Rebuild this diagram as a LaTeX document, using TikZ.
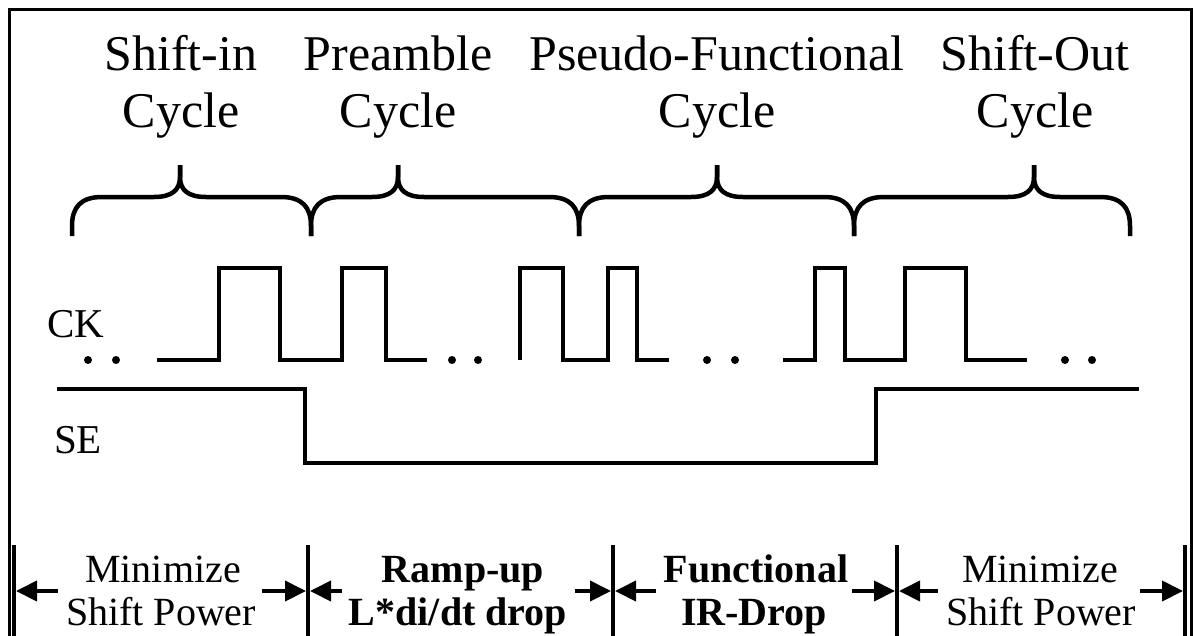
\documentclass[tikz,border=0pt]{standalone}
\usepackage{fontspec}
\setmainfont{Liberation Serif}
\usetikzlibrary{arrows.meta}
\newcommand\cbrace[3]{%
  \draw[brace] (#1,236) -- (#1,226) .. controls (#1,207) and ({#1+9},197) .. ({#1+30},197)
     -- ({#2-26},197) .. controls ({#2-8},197) and (#2,190) .. (#2,177) -- (#2,165);
  \draw[brace] (#2,165) -- (#2,177) .. controls (#2,190) and ({#2+8},197) .. ({#2+26},197)
     -- ({#3-30},197) .. controls ({#3-9},197) and (#3,207) .. (#3,226) -- (#3,236);
}
\begin{document}
\begin{tikzpicture}[x=1pt,y=-1pt,
  wave/.style={line width=4pt, line join=miter},
  brace/.style={line width=4.5pt, line join=round},
  frame/.style={line width=3pt},
  bar/.style={line width=4pt},
  arr/.style={line width=4pt, -{Triangle[length=21pt,width=20pt]}},
  hdr/.style={font=\fontsize{50}{57}\selectfont, inner sep=0pt, anchor=base},
  sig/.style={font=\fontsize{41}{46}\selectfont, inner sep=0pt, anchor=base west},
  lbl/.style={font=\fontsize{40}{44}\selectfont, inner sep=0pt, anchor=base},
  blbl/.style={font=\fontsize{40}{44}\selectfont\bfseries, inner sep=0pt, anchor=base},
  dot/.style={fill=black}
]
\useasboundingbox (0,0) rectangle (1194,635);
\clip (0,0) rectangle (1194,635);
\fill[white] (0,0) rectangle (1194,635);
% frame
\draw[frame] (9,650) -- (9,9) -- (1191,9) -- (1191,650);
% headers
\node[hdr] (h1a) at (181,70) {Shift-in};
\node[hdr] (h1b) at (181,127) {Cycle};
\node[hdr] (h2a) at (398,70) {Preamble};
\node[hdr] (h2b) at (398,127) {Cycle};
\node[hdr] (h3a) at (717,70) {Pseudo-Functional};
\node[hdr] (h3b) at (717,127) {Cycle};
\node[hdr] (h4a) at (1035,70) {Shift-Out};
\node[hdr] (h4b) at (1035,127) {Cycle};
% braces
\cbrace{72}{180}{311}
\cbrace{311}{398}{579}
\cbrace{579}{717}{854}
\cbrace{854}{1034}{1130}
% signal labels
\node[sig] (ck) at (47,337) {CK};
\node[sig] (se) at (54,453) {SE};
% CK waveform
\draw[wave] (157,360) -- (219,360) -- (219,268) -- (280,268) -- (280,360) -- (342,360)
  -- (342,268) -- (386,268) -- (386,360) -- (427,360);
\draw[wave] (520,360) -- (520,268) -- (563,268) -- (563,360) -- (608,360) -- (608,268)
  -- (637,268) -- (637,360) -- (669,360);
\draw[wave] (783,360) -- (815,360) -- (815,268) -- (845,268) -- (845,360) -- (905,360)
  -- (905,268) -- (966,268) -- (966,360) -- (1027,360);
\foreach \x in {88,116,452,478,707,735,1065,1092}
  \fill[dot] (\x,360) circle (4pt);
% SE waveform
\draw[wave] (57,389) -- (305,389) -- (305,463) -- (876,463) -- (876,389) -- (1139,389);
% bottom bars
\foreach \x/\n in {14/a,308/b,613/c,897/d,1185/e}{
  \coordinate (bt\n) at (\x,545);
  \coordinate (bb\n) at (\x,650);
  \draw[bar] (bt\n) -- (bb\n);
}
% bottom labels
\node[lbl] (m1a) at (163,582) {Minimize};
\node[lbl] (m1b) at (161,625) {Shift Power};
\node[blbl] (m2a) at (463,582) {Ramp-up};
\node[blbl] (m2b) at (458,625) {L*di/dt drop};
\node[blbl] (m3a) at (756,582) {Functional};
\node[blbl] (m3b) at (754,625) {IR-Drop};
\node[lbl] (m4a) at (1040,582) {Minimize};
\node[lbl] (m4b) at (1041,625) {Shift Power};
% arrows
\foreach \s/\t in {58/16, 262/306, 342/310, 575/611, 656/615, 852/895, 938/899, 1140/1183}{
  \coordinate (as\s) at (\s,591);
  \coordinate (at\s) at (\t,591);
  \draw[arr] (as\s) -- (at\s);
}
\end{tikzpicture}
\end{document}
